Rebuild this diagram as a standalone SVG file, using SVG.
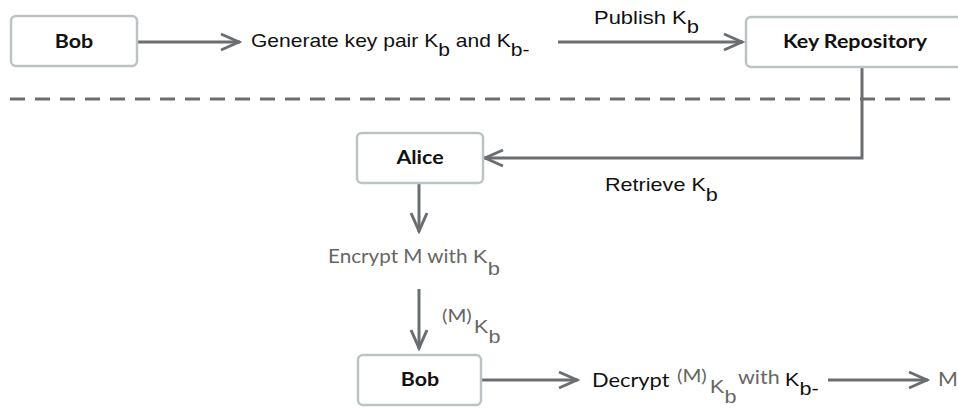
<svg xmlns="http://www.w3.org/2000/svg" width="958" height="408" viewBox="0 0 958 408">
<defs>
<marker id="arr" markerUnits="userSpaceOnUse" viewBox="-22 -11 24 22" refX="0" refY="0" markerWidth="24" markerHeight="22" orient="auto">
<path d="M-19,-8 L-1,0 L-19,8" fill="none" stroke="#6b6e70" stroke-width="3" stroke-linejoin="miter"/>
</marker>
<style>
.box{fill:#fff;stroke:#bcc3c5;stroke-width:2.5}
.lbl{font-family:Lato,"Noto Sans",sans-serif;font-weight:700;font-size:18px;fill:#111;text-anchor:middle}
.hv{font-family:"Liberation Sans",Arial,sans-serif;font-size:18px;fill:#111}
.av{font-family:Lato,"Noto Sans",sans-serif;font-size:19.5px;fill:#666}
.gr{fill:#666}
.bk{fill:#111}
.sm{font-size:17px}
.ln{fill:none;stroke:#6b6e70;stroke-width:3}
.dash{fill:none;stroke:#6b6e70;stroke-width:3;stroke-dasharray:15 10}
</style>
</defs>
<rect width="958" height="408" fill="#fff"/>
<g id="connectors">
<line class="dash" x1="10" y1="99" x2="950" y2="99"/>
<line class="ln" x1="137" y1="42" x2="240" y2="42" marker-end="url(#arr)"/>
<line class="ln" x1="558" y1="42" x2="743" y2="42" marker-end="url(#arr)"/>
<polyline class="ln" points="862,67 862,158 484,158" marker-end="url(#arr)"/>
<line class="ln" x1="419" y1="183" x2="419" y2="232" marker-end="url(#arr)"/>
<line class="ln" x1="419" y1="289" x2="419" y2="349" marker-end="url(#arr)"/>
<line class="ln" x1="481" y1="380" x2="578" y2="380" marker-end="url(#arr)"/>
<line class="ln" x1="828" y1="380" x2="928" y2="380" marker-end="url(#arr)"/>
</g>
<g id="bob1">
<rect class="box" x="11" y="16" width="126" height="50" rx="5"/>
<g transform="translate(74,48) scale(1.19,1)"><text class="lbl">Bob</text></g>
</g>
<g id="keyrepo">
<rect class="box" x="746" y="17" width="218" height="50" rx="5"/>
<g transform="translate(855,48) scale(1.19,1)"><text class="lbl">Key Repository</text></g>
</g>
<g id="alice">
<rect class="box" x="357" y="133" width="126" height="50" rx="5"/>
<g transform="translate(420,164) scale(1.19,1)"><text class="lbl">Alice</text></g>
</g>
<g id="bob2">
<rect class="box" x="358" y="355" width="123" height="50" rx="5"/>
<g transform="translate(420,386) scale(1.19,1)"><text class="lbl">Bob</text></g>
</g>
<g id="labels">
<g transform="translate(251,47) scale(1.17,1)"><text class="hv">Generate key pair K<tspan dy="9">b</tspan><tspan dy="-9"> and K</tspan><tspan dy="9">b-</tspan></text></g>
<g transform="translate(594,24) scale(1.22,1)"><text class="hv">Publish K<tspan dy="9">b</tspan></text></g>
<g transform="translate(605,191) scale(1.2,1)"><text class="hv">Retrieve K<tspan dy="10">b</tspan></text></g>
<g transform="translate(328,263) scale(1.06,1)"><text class="av">Encrypt M with</text></g>
<g transform="translate(473,263) scale(1.22,1)"><text class="hv gr" font-size="21">K<tspan dy="12">b</tspan></text></g>
<g transform="translate(442,322) scale(1.2,1)"><text class="av sm">(M)</text></g>
<g transform="translate(474,333) scale(1.2,1)"><text class="hv gr" font-size="20">K<tspan dy="10">b</tspan></text></g>
<g transform="translate(592,387) scale(1.12,1)"><text class="av bk">Decrypt</text></g>
<g transform="translate(677,382) scale(1.2,1)"><text class="av sm">(M)</text></g>
<g transform="translate(710,393) scale(1.2,1)"><text class="hv gr" font-size="19">K<tspan dy="10">b</tspan></text></g>
<g transform="translate(738,384) scale(1.1,1)"><text class="av">with</text></g>
<g transform="translate(785,386) scale(1.2,1)"><text class="hv">K<tspan dy="9">b-</tspan></text></g>
<g transform="translate(938,386) scale(1.1,1)"><text class="av">M</text></g>
</g>
</svg>
